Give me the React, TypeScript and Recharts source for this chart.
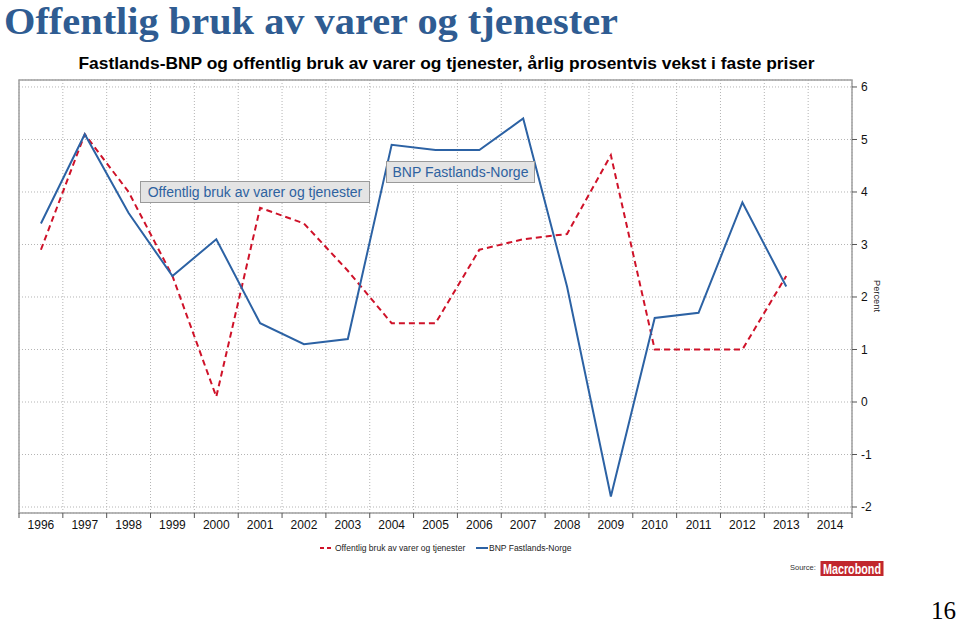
import React from 'react';
import { LineChart, Line, XAxis, YAxis, CartesianGrid, ReferenceArea } from 'recharts';

const YEARS = [1996, 1997, 1998, 1999, 2000, 2001, 2002, 2003, 2004, 2005, 2006, 2007, 2008, 2009, 2010, 2011, 2012, 2013, 2014];
const OFFENTLIG = [2.9, 5.1, 4.0, 2.4, 0.1, 3.7, 3.4, 2.5, 1.5, 1.5, 2.9, 3.1, 3.2, 4.7, 1.0, 1.0, 1.0, 2.4, null];
const BNP = [3.4, 5.1, 3.6, 2.4, 3.1, 1.5, 1.1, 1.2, 4.9, 4.8, 4.8, 5.4, 2.2, -1.8, 1.6, 1.7, 3.8, 2.2, null];
const Y_TICKS = [-2, -1, 0, 1, 2, 3, 4, 5, 6];
const Y_DOMAIN: [number, number] = [-2.114, 6.133];

const SERIES_OFF = 'Offentlig bruk av varer og tjenester';
const SERIES_BNP = 'BNP Fastlands-Norge';
const TITLE = 'Offentlig bruk av varer og tjenester';
const SUBTITLE = 'Fastlands-BNP og offentlig bruk av varer og tjenester, årlig prosentvis vekst i faste priser';

const X_BOUNDS = [...YEARS.map((y) => y - 0.5), YEARS[YEARS.length - 1] + 0.5];
const data = YEARS.map((year, i) => ({ year, off: OFFENTLIG[i], bnp: BNP[i] }));

const W = 960;
const H = 625;
const MARGIN = { top: 80, right: 68, bottom: 82, left: 19 };
const Y_AXIS_W = 40;
const PLOT_W = W - MARGIN.left - MARGIN.right - Y_AXIS_W;
const HALF_BAND = PLOT_W / YEARS.length / 2;

const BLUE = '#2c62a4';
const RED = '#cf1229';
const SANS = '"Liberation Sans", Arial, sans-serif';
const SERIF = '"Liberation Serif", "Times New Roman", serif';

const YearTick = (props: any) => {
  const { x, y, payload } = props;
  const year = payload.value + 0.5;
  if (!YEARS.includes(year)) return null;
  return (
    <text x={x + HALF_BAND} y={y} dy="0.71em" textAnchor="middle" fontSize={12} fill="#111" fontFamily={SANS}>
      {year}
    </text>
  );
};

export default function App() {
  return (
    <div style={{ position: 'absolute', left: 0, top: 0, width: W, height: H, background: '#fff', overflow: 'hidden' }}>
      <LineChart width={W} height={H} data={data} margin={MARGIN}>
        <CartesianGrid stroke="#b4b4b4" strokeDasharray="1 2" />
        <XAxis
          dataKey="year"
          type="number"
          domain={[X_BOUNDS[0], X_BOUNDS[X_BOUNDS.length - 1]]}
          ticks={X_BOUNDS}
          interval={0}
          axisLine={false}
          tickLine={{ stroke: '#555' }}
          tickSize={5}
          tickMargin={2}
          height={30}
          tick={<YearTick />}
        />
        <YAxis
          orientation="right"
          type="number"
          domain={Y_DOMAIN}
          allowDataOverflow
          ticks={Y_TICKS}
          interval={0}
          width={Y_AXIS_W}
          axisLine={false}
          tickLine={{ stroke: '#555' }}
          tickSize={5}
          tickMargin={4}
          tick={{ fontSize: 12, fill: '#111', fontFamily: SANS }}
        />
        <ReferenceArea
          x1={X_BOUNDS[0]}
          x2={X_BOUNDS[X_BOUNDS.length - 1]}
          y1={Y_DOMAIN[0]}
          y2={Y_DOMAIN[1]}
          fill="none"
          fillOpacity={0}
          stroke="#a0a0a0"
          strokeWidth={1.5}
        />
        <Line
          dataKey="off"
          name={SERIES_OFF}
          stroke={RED}
          strokeWidth={2}
          strokeDasharray="6 4"
          dot={false}
          isAnimationActive={false}
        />
        <Line dataKey="bnp" name={SERIES_BNP} stroke={BLUE} strokeWidth={2} dot={false} isAnimationActive={false} />
      </LineChart>
      <svg width={W} height={H} style={{ position: 'absolute', left: 0, top: 0, pointerEvents: 'none' }}>
        <text
          x={4}
          y={34}
          fontSize={38}
          fontWeight="bold"
          fill="#2f5c92"
          fontFamily={SERIF}
          textLength={614}
          lengthAdjust="spacingAndGlyphs"
        >
          {TITLE}
        </text>
        <text
          x={446.5}
          y={69}
          textAnchor="middle"
          fontSize={16.5}
          fontWeight="bold"
          fill="#000"
          fontFamily={SANS}
          textLength={736}
          lengthAdjust="spacingAndGlyphs"
        >
          {SUBTITLE}
        </text>

        <rect x={140.5} y={181.5} width={229} height={21} fill="#e4e4e4" stroke="#9a9a9a" />
        <text x={255} y={197} textAnchor="middle" fontSize={14} fill="#2e62a0" fontFamily={SANS}>
          {SERIES_OFF}
        </text>
        <rect x={386.5} y={161.5} width={148} height={21} fill="#e4e4e4" stroke="#9a9a9a" />
        <text x={460.5} y={177} textAnchor="middle" fontSize={14} fill="#2e62a0" fontFamily={SANS}>
          {SERIES_BNP}
        </text>

        <text
          x={876}
          y={296}
          transform="rotate(90 876 296)"
          textAnchor="middle"
          dominantBaseline="middle"
          fontSize={9.3}
          fill="#222"
          fontFamily={SANS}
        >
          Percent
        </text>

        <line x1={320} y1={548} x2={333} y2={548} stroke={RED} strokeWidth={2} strokeDasharray="4 3" />
        <text x={335} y={551} fontSize={8.5} fill="#222" fontFamily={SANS}>
          {SERIES_OFF}
        </text>
        <line x1={476} y1={548} x2={488} y2={548} stroke={BLUE} strokeWidth={2} />
        <text x={489} y={551} fontSize={8.5} fill="#222" fontFamily={SANS}>
          {SERIES_BNP}
        </text>

        <text x={790} y={570} fontSize={7.5} fill="#333" fontFamily={SANS}>
          Source:
        </text>
        <rect x={820.5} y={561} width={63} height={15} fill="#c1272d" />
        <text
          x={852}
          y={574}
          textAnchor="middle"
          fontSize={14}
          fontWeight="bold"
          fill="#fff"
          fontFamily={SANS}
          textLength={58}
          lengthAdjust="spacingAndGlyphs"
        >
          Macrobond
        </text>

        <text x={931} y={619} fontSize={25} fill="#000" fontFamily={SERIF}>
          16
        </text>
      </svg>
    </div>
  );
}
